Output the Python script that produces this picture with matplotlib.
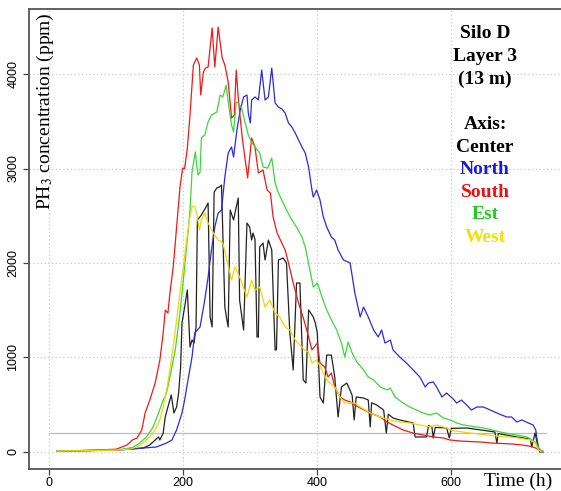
import matplotlib
matplotlib.use("Agg")
import matplotlib.pyplot as plt

# time (h) / PH3 (ppm)
south_t = [12, 40, 70, 100, 116, 124, 131, 138, 143, 150, 158, 165, 170, 173, 177, 180, 185, 190, 195, 199,
           202, 206, 210, 215, 220, 224, 226, 230, 233, 237, 243, 247, 252, 258, 262, 267, 272, 276, 279, 282,
           288, 292, 296, 302, 307, 312, 319, 325, 330, 334, 340, 347, 352, 357, 364, 372, 380, 387, 392, 400,
           404, 411, 416, 421, 426, 434, 441, 449, 456, 464, 479, 494, 504, 513, 528, 543, 558, 573, 588, 598,
           615, 630, 645, 660, 675, 690, 705, 718, 725, 732, 737]
south = [10, 15, 20, 30, 74, 127, 148, 233, 413, 550, 730, 973, 1260, 1500, 1470, 1680, 1960, 2380, 2800, 3005,
         3000, 3215, 3566, 4095, 4170, 4095, 3778, 4020, 4063, 4074, 4487, 4074, 4497, 4170, 4095, 3915, 3534, 3566, 4042, 3746,
         3323, 3111, 2900, 3323, 3228, 2952, 2984, 2772, 2740, 2487, 2317, 2212, 2138, 2000, 1788, 1577, 1397, 1217, 1080, 1153,
         942, 900, 794, 836, 688, 582, 550, 530, 497, 466, 413, 370, 317, 285, 233, 200, 180, 160, 148, 127,
         115, 110, 105, 95, 90, 85, 75, 60, 45, 15, 5]

est_t = [12, 50, 90, 110, 125, 135, 145, 155, 163, 170, 175, 180, 188, 195, 202, 207, 210, 213, 218, 220,
         222, 225, 227, 232, 237, 242, 250, 255, 259, 264, 267, 272, 275, 279, 282, 287, 292, 297, 302, 307,
         314, 319, 326, 332, 337, 342, 347, 354, 362, 369, 377, 382, 389, 394, 400, 407, 414, 421, 429, 436,
         441, 446, 452, 459, 469, 476, 484, 494, 504, 509, 516, 528, 538, 548, 558, 568, 578, 588, 598, 608,
         618, 633, 648, 660, 673, 685, 698, 713, 720, 725, 732, 737]
est = [10, 15, 20, 30, 50, 95, 160, 265, 413, 550, 624, 794, 1080, 1470, 1958, 2317, 2560, 2963, 3175, 3037,
       2931, 2963, 3323, 3354, 3492, 3566, 3598, 3778, 3757, 3883, 3704, 3460, 3386, 3704, 3693, 3640, 3492, 3354, 3280, 3228,
       3164, 3016, 3005, 3111, 2846, 2740, 2667, 2561, 2455, 2381, 2275, 2169, 1926, 1746, 1788, 1640, 1503, 1397, 1291, 1153,
       1005, 1164, 1048, 952, 868, 794, 762, 688, 656, 677, 582, 518, 476, 444, 413, 392, 413, 360, 339, 307,
       286, 270, 254, 235, 212, 195, 180, 159, 127, 106, 30, 5]

north_t = [12, 60, 110, 140, 160, 175, 183, 190, 198, 202, 207, 213, 217, 225, 232, 237, 242, 247, 252, 257,
           262, 267, 272, 275, 280, 285, 290, 295, 297, 300, 302, 307, 312, 317, 322, 327, 332, 337, 342, 347,
           352, 357, 362, 367, 372, 377, 382, 387, 392, 394, 399, 404, 409, 414, 421, 426, 431, 439, 449, 456,
           464, 469, 476, 484, 491, 496, 501, 509, 513, 523, 533, 543, 553, 561, 566, 573, 578, 586, 593, 603,
           608, 615, 623, 630, 638, 648, 658, 668, 675, 683, 690, 698, 705, 715, 722, 726, 730, 735]
north = [10, 15, 25, 42, 53, 95, 127, 233, 413, 550, 762, 1005, 1259, 1323, 1608, 1852, 2138, 2381, 2529, 2560,
         2910, 3164, 3228, 3122, 3407, 3619, 3757, 3778, 3587, 3481, 3725, 3757, 3725, 4042, 3725, 3757, 4063, 3693, 3651, 3630,
         3587, 3481, 3439, 3376, 3302, 3228, 3164, 3016, 2772, 2698, 2772, 2667, 2487, 2381, 2275, 2243, 2138, 2032, 2000, 1683,
         1429, 1534, 1429, 1291, 1217, 1291, 1153, 1185, 1080, 1005, 942, 868, 794, 688, 730, 741, 688, 582, 624, 560,
         518, 550, 497, 444, 476, 476, 444, 413, 392, 370, 370, 317, 339, 307, 286, 233, 42, 0]

west_t = [12, 60, 100, 120, 131, 140, 150, 158, 165, 170, 175, 180, 185, 190, 195, 200, 205, 209, 213, 217,
          220, 224, 227, 232, 237, 245, 252, 259, 264, 272, 277, 284, 295, 302, 307, 314, 322, 329, 337, 344,
          352, 359, 367, 374, 381, 387, 392, 399, 407, 414, 419, 426, 434, 441, 449, 456, 464, 479, 494, 509,
          523, 538, 553, 568, 578, 593, 600, 623, 648, 673, 698, 718, 725, 730, 735]
west = [10, 15, 20, 30, 53, 95, 160, 233, 339, 476, 656, 868, 1111, 1397, 1683, 1958, 2243, 2455, 2593, 2603,
        2529, 2349, 2455, 2529, 2423, 2317, 2243, 2212, 2063, 1820, 1958, 1852, 1640, 1820, 1714, 1746, 1534, 1608, 1471, 1429,
        1323, 1291, 1185, 1132, 1079, 1058, 942, 974, 868, 762, 730, 688, 582, 518, 518, 518, 476, 413, 370, 339,
        317, 307, 286, 265, 286, 254, 230, 205, 185, 165, 150, 127, 95, 21, 0]

center_t = [12, 60, 110, 140, 150, 158, 163, 165, 170, 173, 177, 182, 186, 190, 193, 196, 198, 202, 206, 210,
            213, 216, 219, 221, 227, 234, 237, 240, 243, 246, 250, 254, 257, 262, 265, 267, 270, 275, 279, 282,
            284, 290, 295, 299, 302, 304, 307, 310, 312, 314, 319, 322, 327, 332, 337, 339, 342, 349, 354, 359,
            364, 369, 374, 379, 383, 387, 394, 397, 400, 404, 409, 414, 421, 426, 431, 436, 444, 449, 452, 455,
            458, 469, 476, 479, 481, 488, 499, 503, 506, 513, 523, 543, 546, 563, 566, 571, 573, 576, 593, 597,
            600, 623, 665, 668, 670, 698, 718, 720, 725, 728, 732, 737]
center = [10, 15, 25, 42, 74, 127, 159, 127, 201, 370, 476, 603, 413, 476, 624, 900, 1365, 1534, 1714, 1111,
          1185, 1153, 1323, 2455, 2508, 2593, 2635, 1429, 1323, 2750, 2794, 2804, 2825, 1534, 1397, 1323, 2561, 2455, 2593, 2688,
          1608, 1291, 2423, 2381, 2243, 2317, 2250, 1217, 1217, 2169, 2212, 2032, 2243, 2138, 1080, 1080, 2032, 2053, 2000, 1259,
          868, 1788, 1788, 762, 730, 1503, 1429, 1365, 1259, 582, 518, 1026, 1026, 794, 370, 688, 730, 650, 600, 339,
          582, 571, 550, 265, 520, 500, 444, 200, 400, 360, 339, 307, 159, 159, 280, 265, 148, 260, 254, 148,
          250, 254, 212, 95, 195, 159, 137, 53, 201, 100, 0, 0]

legend_lines = ["Silo D", "Layer 3", "(13 m)", "", "Axis:", "Center", "North", "South", "Est", "West"]
legend_colors = ["black", "black", "black", "black", "black", "black", "#1a1adf", "#ee1111", "#22cc22", "#f2e200"]

W, H = 561, 491
fig = plt.figure(figsize=(W / 100, H / 100), dpi=100)
ax = fig.add_axes([29 / W, 1 - 469 / H, (W - 29) / W, (469 - 9) / H])

for v in [0, 200, 400, 600]:
    ax.axvline(v, color="#c8c8c8", lw=0.9, ls=(0, (1, 2)), zorder=0)
for v in [0, 1000, 2000, 3000, 4000]:
    ax.axhline(v, color="#c8c8c8", lw=0.9, ls=(0, (1, 2)), zorder=0)
ax.plot([0, 742], [200, 200], color="#bdbdbd", lw=0.9, zorder=0.5)

lw = 0.9
ax.plot(center_t, center, color="#222222", lw=lw)
ax.plot(north_t, north, color="#2b2bd9", lw=lw)
ax.plot(south_t, south, color="#f01818", lw=lw)
ax.plot(est_t, est, color="#3ad83a", lw=lw)
ax.plot(west_t, west, color="#f5d400", lw=lw)

ax.set_xlim(-30.3, 763.7)
ax.set_ylim(-180, 4688)
ax.set_xticks([0, 200, 400, 600])
ax.set_yticks([0, 1000, 2000, 3000, 4000])
ax.tick_params(axis="both", length=4, width=0.9, color="#444444", labelsize=9)
ax.tick_params(axis="x", pad=2)
ax.tick_params(axis="y", pad=3)
for lab in ax.get_yticklabels():
    lab.set_rotation(90)
    lab.set_va("center")
    lab.set_family("Liberation Sans")
for lab in ax.get_xticklabels():
    lab.set_family("Liberation Sans")

ax.spines["right"].set_visible(False)
for s in ["left", "bottom", "top"]:
    ax.spines[s].set_color("#555555")
    ax.spines[s].set_linewidth(1.3)

fig.text(45 / W, 1 - 12 / H, "PH$_3$ concentration (ppm)", rotation=90, ha="center", va="top",
         family="Liberation Serif", fontsize=14, math_fontfamily="stix")
fig.text(518 / W, 1 - 481 / H, "Time (h)", ha="center", va="center",
         family="Liberation Serif", fontsize=14)

y0, step = 34, 22.6
for i, (txt, col) in enumerate(zip(legend_lines, legend_colors)):
    if txt:
        fig.text(485 / W, 1 - (y0 + i * step) / H, txt, ha="center", va="center", color=col,
                 family="Liberation Serif", fontweight="bold", fontsize=14)

fig.savefig("out.png", dpi=100)
